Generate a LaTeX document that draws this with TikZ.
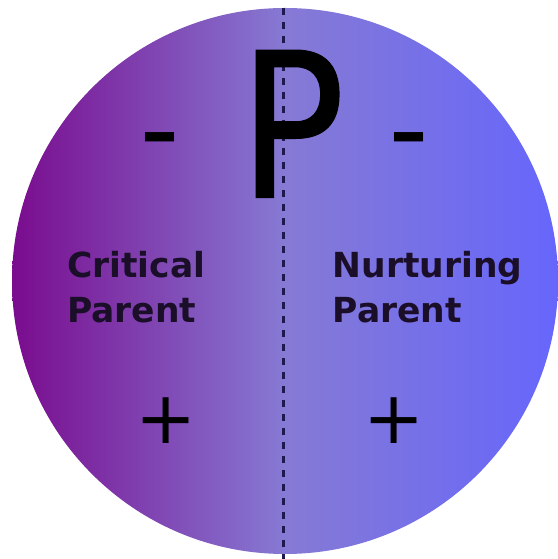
\documentclass[tikz,border=0pt]{standalone}
\usepackage{fontspec}
\setmainfont{DejaVu Sans}
\newfontfamily\bigletter[FakeBold=0.7]{DejaVu Sans}
\definecolor{critpurple}{RGB}{122,12,142}
\definecolor{midlavender}{RGB}{134,122,212}
\definecolor{nurtblue}{RGB}{102,102,252}
\definecolor{labeltext}{RGB}{26,14,40}
\definecolor{splitline}{RGB}{28,26,80}

\begin{document}
\begin{tikzpicture}[x=1pt,y=1pt,
    lbl/.style={anchor=base west, inner sep=0pt, text=labeltext, font=\bfseries\fontsize{34.5}{40}\selectfont},
    sign/.style={anchor=base, inner sep=0pt, text=black}]
  \useasboundingbox (0,0) rectangle (557,559);
  \coordinate (c) at (285,278);
  \shade[left color=critpurple, right color=nurtblue, middle color=midlavender] (c) circle (273);
  \coordinate (top) at (283.5,551);
  \coordinate (bot) at (283.5,0);
  \draw[splitline, line width=2.5pt, dash pattern=on 7pt off 7pt] (top) -- (bot);
  \node[sign, font=\bigletter\fontsize{202}{202}\selectfont] (P) at (292,361.5) {\scalebox{0.87}[1]{P}};
  \node[sign, font=\bfseries\fontsize{74}{74}\selectfont] (critminus) at (160,401) {–};
  \node[sign, font=\bfseries\fontsize{74}{74}\selectfont] (nurtminus) at (409.4,401) {–};
  \node[sign, font=\fontsize{73}{73}\selectfont] (critplus) at (165.7,115.4) {+};
  \node[sign, font=\fontsize{73}{73}\selectfont] (nurtplus) at (393.7,115.4) {+};
  \node[lbl] (crit) at (67,281) {Critical};
  \node[lbl] (critparent) at ([yshift=-45pt]crit.base west) {Parent};
  \node[lbl] (nurt) at (332.6,281) {Nurturing};
  \node[lbl] (nurtparent) at ([yshift=-45pt]nurt.base west) {Parent};
\end{tikzpicture}
\end{document}
